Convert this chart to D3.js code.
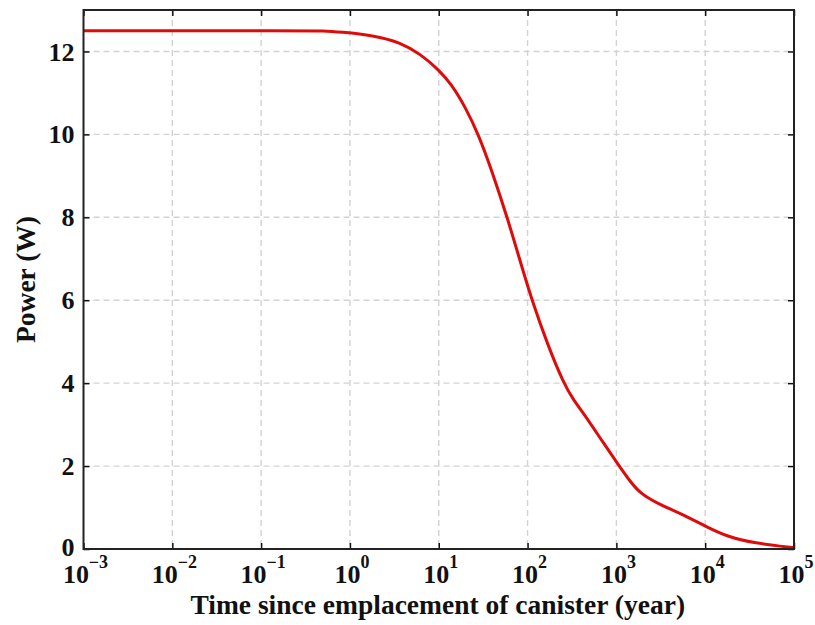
<!DOCTYPE html>
<html lang="en">
<head>
<meta charset="UTF-8">
<title>Power vs time</title>
<script src="https://d3js.org/d3.v7.min.js"></script>
<style>
  body { margin: 0; background: #fff; }
</style>
</head>
<body>
<script>
// values
const years = [0.001, 0.3, 0.5, 0.78, 1.84, 3.68, 6.19, 10, 14, 20, 28, 40, 60, 85, 112, 166, 255, 330, 428, 719, 1062, 1438, 1862, 2870, 5260, 10250, 17660, 35200, 100000];
const power = [12.5, 12.5, 12.5, 12.47, 12.39, 12.22, 11.94, 11.56, 11.2, 10.65, 10.0, 9.1, 7.95, 6.85, 6.0, 4.96, 3.99, 3.59, 3.27, 2.55, 2.02, 1.62, 1.34, 1.1, 0.86, 0.54, 0.3, 0.14, 0.03];
const xTicks = [1e-3, 1e-2, 1e-1, 1, 10, 100, 1e3, 1e4, 1e5];
const yTicks = [0, 2, 4, 6, 8, 10, 12];

const W = 815, H = 625;
const m = {left: 83.5, right: 21, top: 10, bottom: 76};
const pw = W - m.left - m.right, ph = H - m.top - m.bottom;
const font = "'Liberation Serif', 'Times New Roman', Times, serif";

const svg = d3.select("body").append("svg")
    .attr("width", W)
    .attr("height", H)
    .attr("font-family", font)
    .attr("font-weight", "bold");

const x = d3.scaleLog().domain([1e-3, 1e5]).range([0, pw]);
const y = d3.scaleLinear().domain([0, 13]).range([ph, 0]);

const g = svg.append("g").attr("transform", "translate(" + m.left + "," + m.top + ")");

// dashed grid
g.selectAll(".gx").data(xTicks.slice(1, -1)).enter().append("line")
    .attr("x1", d => x(d)).attr("x2", d => x(d))
    .attr("y1", 0).attr("y2", ph)
    .attr("stroke", "#d3d3d3").attr("stroke-width", 1.4).attr("stroke-dasharray", "6,4");
g.selectAll(".gy").data(yTicks.slice(1)).enter().append("line")
    .attr("x1", 0).attr("x2", pw)
    .attr("y1", d => y(d)).attr("y2", d => y(d))
    .attr("stroke", "#d3d3d3").attr("stroke-width", 1.4).attr("stroke-dasharray", "6,4");

// curve (B-spline smooths small reading errors)
const line = d3.line()
    .x((d, i) => x(years[i]))
    .y(d => y(d))
    .curve(d3.curveBasis);
g.append("path")
    .datum(power)
    .attr("d", line)
    .attr("fill", "none")
    .attr("stroke", "#df0a0a")
    .attr("stroke-width", 3);

// axes with inward ticks on all four sides
function styleAxis(sel) {
    sel.select(".domain").remove();
    sel.selectAll(".tick line").attr("stroke", "#111").attr("stroke-width", 1.5);
}
g.append("g").attr("transform", "translate(0," + ph + ")")
    .call(d3.axisBottom(x).tickValues(xTicks).tickSize(-6).tickFormat(""))
    .call(styleAxis);
g.append("g")
    .call(d3.axisTop(x).tickValues(xTicks).tickSize(-6).tickFormat(""))
    .call(styleAxis);
g.append("g")
    .call(d3.axisLeft(y).tickValues(yTicks).tickSize(-6).tickFormat(""))
    .call(styleAxis);
g.append("g").attr("transform", "translate(" + pw + ",0)")
    .call(d3.axisRight(y).tickValues(yTicks).tickSize(-6).tickFormat(""))
    .call(styleAxis);

// frame
g.append("rect")
    .attr("width", pw).attr("height", ph)
    .attr("fill", "none").attr("stroke", "#222").attr("stroke-width", 2);

// y tick labels
g.selectAll(".yl").data(yTicks).enter().append("text")
    .attr("x", -9)
    .attr("y", d => y(d) - (d === 0 ? 2 : 0))
    .attr("dy", "0.35em")
    .attr("text-anchor", "end")
    .attr("font-size", 26)
    .attr("fill", "#111")
    .text(d => d);

// x tick labels: 10 with superscript exponent
const xl = g.selectAll(".xl").data(xTicks).enter().append("text")
    .attr("x", d => x(d) + 2)
    .attr("y", ph + 34)
    .attr("text-anchor", "middle")
    .attr("font-size", 26)
    .attr("fill", "#111");
xl.append("tspan").text("10");
xl.append("tspan")
    .attr("dy", -15)
    .attr("font-size", 18)
    .text(d => {
        const e = Math.round(Math.log10(d));
        return e < 0 ? "\u2212" + (-e) : String(e);
    });

// axis titles
svg.append("text")
    .attr("x", m.left + pw / 2 - 1)
    .attr("y", 614)
    .attr("text-anchor", "middle")
    .attr("font-size", 27.5)
    .attr("fill", "#111")
    .text("Time since emplacement of canister (year)");

svg.append("text")
    .attr("transform", "translate(35," + (m.top + ph / 2) + ") rotate(-90)")
    .attr("text-anchor", "middle")
    .attr("font-size", 27.5)
    .attr("fill", "#111")
    .text("Power (W)");
</script>
</body>
</html>
